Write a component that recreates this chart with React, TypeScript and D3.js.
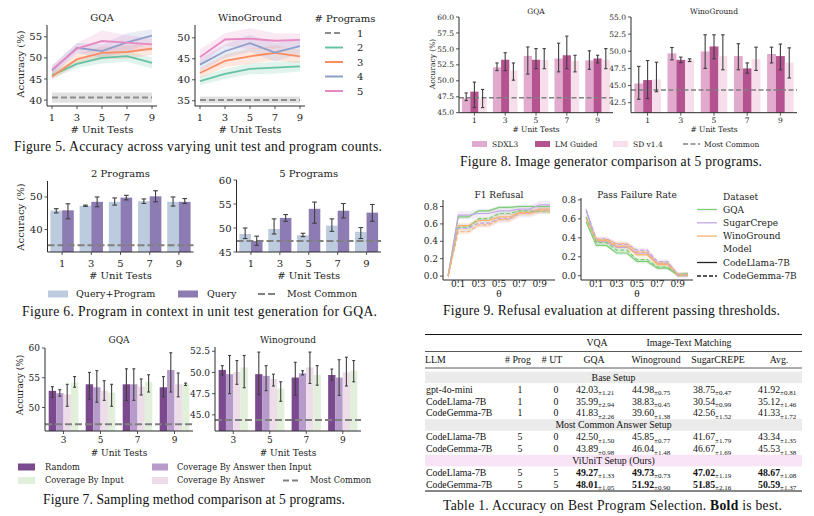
import React from "react"
import * as d3 from "d3"

const SERIF = "DejaVu Serif"
const TIMES = "Liberation Serif"
const AX = "#2b2b2b"
const ERR = "#3f3f3f"
const COMMON = "#808080"

type Triple = [number, number, number] // mean, low, high

// ---------- Figure 5: lines per number of programs
const unitTests = [1, 3, 5, 7, 9]
const programLabels = ["1", "2", "3", "4", "5"]
const programColors = ["#8c8c8c", "#66c2a5", "#fc8d62", "#8da0cb", "#e78ac3"]
const gqaByPrograms = [
  [40.6, 40.6, 40.6, 40.6, 40.6],
  [45.9, 48.6, 50.0, 50.4, 48.8],
  [45.6, 49.7, 51.2, 51.4, 52.2],
  [47.0, 52.4, 51.6, 53.7, 55.3],
  [47.2, 52.2, 54.0, 53.6, 53.2],
]
const gqaBandHalf = [
  [1.2, 1.2, 1.2, 1.2, 1.2],
  [0.8, 1.0, 1.3, 1.3, 1.3],
  [0.8, 1.3, 1.5, 1.6, 1.5],
  [1.2, 1.2, 1.6, 2.2, 1.5],
  [1.0, 1.3, 2.5, 1.8, 1.5],
]
const winoByPrograms = [
  [35.2, 35.2, 35.2, 35.2, 35.2],
  [39.7, 41.4, 42.6, 42.9, 43.2],
  [41.6, 44.5, 45.6, 46.4, 45.6],
  [43.6, 46.8, 48.7, 46.5, 48.0],
  [45.4, 49.6, 49.8, 49.3, 49.5],
]
const winoBandHalf = [
  [0.8, 0.8, 0.8, 0.8, 0.8],
  [1.0, 1.2, 1.3, 1.4, 1.2],
  [1.2, 1.5, 1.8, 1.8, 1.6],
  [1.5, 1.6, 2.0, 2.2, 1.8],
  [1.8, 1.5, 2.5, 1.8, 1.5],
]

// ---------- Figure 6: program in context
const testCats = ["1", "3", "5", "7", "9"]
const twoProgQueryProgram: Triple[] = [[45.8, 45.1, 46.4], [47.3, 47.1, 47.5], [48.5, 47.5, 49.7], [48.7, 48.0, 49.4], [48.5, 47.2, 50.0]]
const twoProgQuery: Triple[] = [[45.9, 43.3, 47.9], [48.5, 47.0, 50.0], [49.8, 49.1, 50.5], [50.2, 48.5, 51.9], [48.5, 48.0, 49.5]]
const fiveProgQueryProgram: Triple[] = [[48.75, 47.8, 50.0], [49.8, 48.75, 51.9], [48.5, 48.2, 48.9], [50.5, 49.3, 51.9], [49.2, 47.8, 50.1]]
const fiveProgQuery: Triple[] = [[47.3, 46.4, 48.3], [52.1, 51.4, 52.8], [54.0, 51.0, 55.4], [53.6, 52.1, 55.1], [53.2, 51.4, 54.9]]
const fig6Common = [35.2, 47.3]

// ---------- Figure 7: sampling methods
const fig7Cats = ["3", "5", "7", "9"]
const gqaRandom: Triple[] = [[52.8, 51.7, 53.5], [53.9, 51.4, 55.9], [53.9, 51.2, 56.5], [53.4, 51.8, 55.2]]
const gqaAnsThenInput: Triple[] = [[52.4, 51.9, 53.0], [53.4, 50.9, 56.2], [53.9, 51.2, 56.5], [56.3, 52.6, 59.2]]
const gqaByAnswer: Triple[] = [[52.2, 50.2, 53.9], [52.8, 51.2, 54.5], [53.5, 52.1, 54.8], [53.9, 51.8, 55.8]]
const gqaByInput: Triple[] = [[54.2, 53.4, 55.2], [52.5, 50.2, 53.9], [54.3, 52.6, 55.5], [53.9, 53.7, 54.1]]
const winoRandom: Triple[] = [[50.3, 49.7, 50.8], [49.8, 47.4, 52.4], [49.4, 47.3, 51.2], [49.7, 49.1, 50.4]]
const winoAnsThenInput: Triple[] = [[49.8, 47.5, 52.0], [49.6, 47.85, 50.8], [49.9, 49.7, 50.2], [49.4, 47.3, 51.5]]
const winoByAnswer: Triple[] = [[50.05, 48.6, 51.4], [49.25, 48.4, 49.8], [50.6, 48.7, 52.4], [50.0, 48.4, 51.8]]
const winoByInput: Triple[] = [[50.6, 48.2, 52.0], [48.1, 46.6, 48.9], [49.7, 48.5, 50.8], [50.2, 48.9, 51.4]]
const fig7Common = [47.2, 44.4]
const fig7Colors = ["#7b4a8e", "#b79ccb", "#ecdde9", "#e2efdb"]

// ---------- Figure 8: image generators
const gqaSdxl: Triple[] = [[47.25, 46.9, 48.1], [52.1, 51.6, 52.8], [53.9, 51.05, 55.3], [53.5, 51.4, 55.9], [53.2, 51.8, 54.7]]
const gqaLmGuided: Triple[] = [[48.3, 45.8, 49.8], [53.3, 51.6, 54.4], [53.3, 51.9, 55.05], [54.0, 51.9, 57.0], [53.5, 52.8, 54.0]]
const gqaSd14: Triple[] = [[47.2, 45.8, 48.65], [51.6, 50.1, 52.8], [53.3, 51.9, 55.05], [53.1, 51.4, 54.0], [53.3, 51.9, 55.05]]
const winoSdxl: Triple[] = [[45.3, 43.0, 47.8], [49.7, 48.75, 50.55], [49.97, 47.5, 52.4], [49.3, 47.3, 51.1], [49.6, 48.3, 50.6]]
const winoLmGuided: Triple[] = [[45.8, 43.1, 48.65], [48.75, 48.35, 49.15], [50.7, 48.9, 52.4], [47.5, 46.8, 48.3], [49.3, 47.3, 51.05]]
const winoSd14: Triple[] = [[45.9, 44.1, 48.4], [48.75, 48.5, 48.9], [49.3, 47.3, 52.4], [48.85, 47.2, 50.6], [48.35, 46.1, 50.5]]
const fig8Common = [47.35, 44.35]
const fig8Colors = ["#e2aacd", "#b55290", "#f6dfea"]

// ---------- Figure 9: refusal thresholds
const thetas = [0, 0.1, 0.2, 0.3, 0.4, 0.5, 0.6, 0.7, 0.8, 0.9, 1.0]
const datasetNames = ["GQA", "SugarCrepe", "WinoGround"]
const datasetColors = ["#7fcb78", "#c1a7e3", "#f6b370"]
const f1Llama = [
  [0, 0.68, 0.68, 0.75, 0.75, 0.79, 0.79, 0.8, 0.8, 0.8, 0.8],
  [0, 0.7, 0.7, 0.72, 0.72, 0.75, 0.75, 0.77, 0.77, 0.82, 0.82],
  [0, 0.58, 0.58, 0.64, 0.64, 0.68, 0.68, 0.73, 0.73, 0.77, 0.77],
]
const f1Gemma = [
  [0, 0.56, 0.56, 0.66, 0.66, 0.72, 0.72, 0.75, 0.75, 0.74, 0.74],
  [0, 0.55, 0.55, 0.61, 0.61, 0.66, 0.66, 0.72, 0.72, 0.76, 0.76],
  [0, 0.51, 0.51, 0.59, 0.59, 0.65, 0.65, 0.72, 0.72, 0.75, 0.75],
]
const passLlama = [
  [0.57, 0.32, 0.32, 0.24, 0.24, 0.15, 0.15, 0.08, 0.08, 0.01, 0.02],
  [0.69, 0.36, 0.36, 0.3, 0.3, 0.24, 0.24, 0.13, 0.13, 0.01, 0.01],
  [0.62, 0.37, 0.37, 0.31, 0.31, 0.22, 0.22, 0.12, 0.12, 0.01, 0.01],
]
const passGemma = [
  [0.62, 0.35, 0.35, 0.27, 0.27, 0.17, 0.17, 0.09, 0.09, 0.01, 0.01],
  [0.7, 0.39, 0.39, 0.33, 0.33, 0.27, 0.27, 0.15, 0.15, 0.01, 0.01],
  [0.6, 0.38, 0.38, 0.34, 0.34, 0.25, 0.25, 0.13, 0.13, 0.01, 0.01],
]
const f1BandHalf = [0.02, 0.045, 0.03]
const passBandHalf = [0.02, 0.025, 0.025]

// ---------- Table 1
type Row = [string, number, number, [number, number][]]
const tableColumns = ["GQA", "Winoground", "SugarCREPE", "Avg."]
const baseSetupRows: Row[] = [
  ["gpt-4o-mini", 1, 0, [[42.03, 1.21], [44.98, 0.75], [38.75, 0.47], [41.92, 0.81]]],
  ["CodeLlama-7B", 1, 0, [[35.99, 2.94], [38.83, 0.45], [30.54, 0.99], [35.12, 1.46]]],
  ["CodeGemma-7B", 1, 0, [[41.83, 2.26], [39.6, 1.38], [42.56, 1.52], [41.33, 1.72]]],
]
const mostCommonRows: Row[] = [
  ["CodeLlama-7B", 5, 0, [[42.5, 1.5], [45.85, 0.77], [41.67, 1.79], [43.34, 1.35]]],
  ["CodeGemma-7B", 5, 0, [[43.89, 0.98], [46.04, 1.48], [46.67, 1.69], [45.53, 1.38]]],
]
const viunitRows: Row[] = [
  ["CodeLlama-7B", 5, 5, [[49.27, 1.33], [49.73, 0.73], [47.02, 1.19], [48.67, 1.08]]],
  ["CodeGemma-7B", 5, 5, [[48.01, 1.05], [51.92, 0.9], [51.85, 2.16], [50.59, 1.37]]],
]

// ---------- helpers
function YAxis({ x, y, ticks, fmt, fs, top, bottom }) {
  return (
    <g>
      <line x1={x} x2={x} y1={top} y2={bottom} stroke={AX} strokeWidth={1} />
      {ticks.map(t => (
        <g key={t}>
          <line x1={x - 3} x2={x} y1={y(t)} y2={y(t)} stroke={AX} strokeWidth={0.8} />
          <text x={x - 5} y={y(t)} dy="0.35em" textAnchor="end" fontSize={fs} fill="#222">
            {fmt(t)}
          </text>
        </g>
      ))}
    </g>
  )
}

function XAxis({ y, left, right, ticks, fs, labelY }) {
  return (
    <g>
      <line x1={left} x2={right} y1={y} y2={y} stroke={AX} strokeWidth={1} />
      {ticks.map(t => (
        <g key={t.label}>
          <line x1={t.x} x2={t.x} y1={y} y2={y + 3} stroke={AX} strokeWidth={0.8} />
          <text x={t.x} y={labelY} dy="0.35em" textAnchor="middle" fontSize={fs} fill="#222">
            {t.label}
          </text>
        </g>
      ))}
    </g>
  )
}

function YLabel({ x, y, fs }) {
  return (
    <text transform={`translate(${x},${y}) rotate(-90)`} textAnchor="middle" dy="0.35em" fontSize={fs} fill="#222">
      Accuracy (%)
    </text>
  )
}

function BarPanel(p) {
  const y = d3.scaleLinear().domain(p.yDomain).range([p.bottom, p.top])
  const x = d3.scaleBand().domain(p.cats).range([p.left, p.right])
  const bw = x.bandwidth()
  const w = (bw * 0.8) / p.series.length
  const cap = w * 0.2
  return (
    <g>
      {p.series.map((s, j) =>
        s.data.map((d, i) => {
          const bx = x(p.cats[i]) + bw * 0.1 + j * w
          return <rect key={`b${j}-${i}`} x={bx} y={y(d[0])} width={w} height={p.bottom - y(d[0])} fill={s.color} />
        })
      )}
      <line x1={p.left} x2={p.right} y1={y(p.common)} y2={y(p.common)} stroke={COMMON} strokeWidth={p.dashW} strokeDasharray={p.dash} />
      {p.series.map((s, j) =>
        s.data.map((d, i) => {
          const cx = x(p.cats[i]) + bw * 0.1 + j * w + w / 2
          return (
            <g key={`e${j}-${i}`} stroke={ERR} strokeWidth={1.1}>
              <line x1={cx} x2={cx} y1={y(d[1])} y2={y(d[2])} />
              <line x1={cx - cap} x2={cx + cap} y1={y(d[1])} y2={y(d[1])} />
              <line x1={cx - cap} x2={cx + cap} y1={y(d[2])} y2={y(d[2])} />
            </g>
          )
        })
      )}
      <YAxis x={p.left} y={y} ticks={p.yTicks} fmt={p.yFmt} fs={p.fs} top={p.top} bottom={p.bottom} />
      <XAxis
        y={p.bottom}
        left={p.left}
        right={p.right}
        ticks={p.cats.map(c => ({ x: x(c) + bw / 2, label: c }))}
        fs={p.fs}
        labelY={p.tickY}
      />
      <text x={(p.left + p.right) / 2} y={p.titleY} dy="0.35em" textAnchor="middle" fontSize={p.fs} fill="#222">
        {p.title}
      </text>
      <text x={(p.left + p.right) / 2} y={p.xLabelY} dy="0.35em" textAnchor="middle" fontSize={p.fs} fill="#222">
        # Unit Tests
      </text>
    </g>
  )
}

function LinePanel(p) {
  const x = d3.scaleLinear().domain(p.xDomain).range([p.left, p.right])
  const y = d3.scaleLinear().domain(p.yDomain).range([p.bottom, p.top])
  const line = d3
    .line<number>()
    .x((d, i) => x(p.xs[i]))
    .y(d => y(d))
  return (
    <g>
      {p.lines.map((l, k) => {
        const area = d3
          .area<number>()
          .x((d, i) => x(p.xs[i]))
          .y0((d, i) => y(d - l.half[i]))
          .y1((d, i) => y(d + l.half[i]))
        return <path key={`a${k}`} d={area(l.values)} fill={l.color} fillOpacity={l.bandOpacity ?? 0.2} />
      })}
      {p.lines.map((l, k) => (
        <path key={`l${k}`} d={line(l.values)} fill="none" stroke={l.color} strokeWidth={l.width} strokeDasharray={l.dash} />
      ))}
      <YAxis x={p.left} y={y} ticks={p.yTicks} fmt={p.yFmt} fs={p.fs} top={p.top} bottom={p.bottom} />
      <XAxis
        y={p.bottom}
        left={p.left}
        right={p.right}
        ticks={p.xTicks.map(t => ({ x: x(t), label: p.xFmt(t) }))}
        fs={p.fs}
        labelY={p.tickY}
      />
      <text x={(p.left + p.right) / 2} y={p.titleY} dy="0.35em" textAnchor="middle" fontSize={p.fs} fill="#222">
        {p.title}
      </text>
      <text x={(p.left + p.right) / 2} y={p.xLabelY} dy="0.35em" textAnchor="middle" fontSize={p.fs} fill="#222">
        {p.xLabel}
      </text>
    </g>
  )
}

function Caption({ x1, x2, y, children }) {
  return (
    <text x={(x1 + x2) / 2} y={y} textAnchor="middle" fontFamily={TIMES} fontSize={13.6} fill="#111" textLength={x2 - x1} lengthAdjust="spacing">
      {children}
    </text>
  )
}

function LegendPatch({ x, y, w, h, color, label, fs, tx }) {
  return (
    <g>
      <rect x={x} y={y - h / 2} width={w} height={h} fill={color} />
      <text x={tx} y={y} dy="0.35em" fontSize={fs} fill="#222">
        {label}
      </text>
    </g>
  )
}

function LegendLine({ x1, x2, y, color, dash, width, label, fs, tx }) {
  return (
    <g>
      <line x1={x1} x2={x2} y1={y} y2={y} stroke={color} strokeWidth={width} strokeDasharray={dash} />
      <text x={tx} y={y} dy="0.35em" fontSize={fs} fill="#222">
        {label}
      </text>
    </g>
  )
}

// ---------- figures
function Figure5() {
  const mk = (vals, halves) =>
    vals.map((v, k) => ({
      values: v,
      half: halves[k],
      color: programColors[k],
      width: k === 0 ? 2 : 1.8,
      dash: k === 0 ? "6,3" : undefined,
      bandOpacity: k === 0 ? 0.25 : 0.2,
    }))
  const common = {
    xDomain: [0.6, 9.4],
    xs: unitTests,
    xTicks: unitTests,
    xFmt: d => String(d),
    yFmt: d => String(d),
    fs: 10,
    top: 25,
    bottom: 106,
    tickY: 117,
    xLabelY: 129,
    titleY: 17,
    xLabel: "# Unit Tests",
  }
  return (
    <g>
      <LinePanel {...common} left={47} right={157} yDomain={[38.6, 57.8]} yTicks={[40, 45, 50, 55]} lines={mk(gqaByPrograms, gqaBandHalf)} title="GQA" />
      <LinePanel {...common} left={195} right={305} yDomain={[33.75, 53.05]} yTicks={[35, 40, 45, 50]} lines={mk(winoByPrograms, winoBandHalf)} title="WinoGround" />
      <YLabel x={20} y={64} fs={10} />
      <text x={345} y={18} dy="0.35em" textAnchor="middle" fontSize={10} fill="#222">
        # Programs
      </text>
      {programLabels.map((lab, k) => (
        <LegendLine
          key={lab}
          x1={325}
          x2={343}
          y={33 + k * 14.5}
          color={programColors[k]}
          dash={k === 0 ? "6,3" : undefined}
          width={2}
          label={lab}
          fs={10}
          tx={357}
        />
      ))}
      <Caption x1={14} x2={382} y={151}>
        Figure 5. Accuracy across varying unit test and program counts.
      </Caption>
    </g>
  )
}

function Figure8() {
  const common = {
    cats: testCats,
    top: 17,
    bottom: 112.7,
    fs: 7.5,
    tickY: 120,
    xLabelY: 129.5,
    titleY: 11.5,
    yFmt: d => d.toFixed(1),
    dash: "5,2.5",
    dashW: 1.6,
  }
  return (
    <g>
      <BarPanel
        {...common}
        left={459}
        right={613}
        yDomain={[45, 60]}
        yTicks={[45, 47.5, 50, 52.5, 55, 57.5, 60]}
        series={[gqaSdxl, gqaLmGuided, gqaSd14].map((d, k) => ({ data: d, color: fig8Colors[k] }))}
        common={fig8Common[0]}
        title="GQA"
      />
      <BarPanel
        {...common}
        left={631}
        right={797}
        yDomain={[41.04, 55]}
        yTicks={[42.5, 45, 47.5, 50, 52.5, 55]}
        series={[winoSdxl, winoLmGuided, winoSd14].map((d, k) => ({ data: d, color: fig8Colors[k] }))}
        common={fig8Common[1]}
        title="WinoGround"
      />
      <YLabel x={432} y={64} fs={7.5} />
      <LegendPatch x={472} y={144} w={15} h={6} color={fig8Colors[0]} label="SDXL3" fs={7.5} tx={492} />
      <LegendPatch x={535} y={144} w={15} h={6} color={fig8Colors[1]} label="LM Guided" fs={7.5} tx={555} />
      <LegendPatch x={613} y={144} w={15} h={6} color={fig8Colors[2]} label="SD v1.4" fs={7.5} tx={633} />
      <LegendLine x1={683} x2={700} y={144} color={COMMON} dash="5,2.5" width={1.6} label="Most Common" fs={7.5} tx={704} />
      <Caption x1={460} x2={762} y={166}>
        Figure 8. Image generator comparison at 5 programs.
      </Caption>
    </g>
  )
}

function Figure6() {
  const colors = ["#bccbdd", "#8d7cb3"]
  const common = {
    cats: testCats,
    bottom: 252,
    fs: 10,
    tickY: 263.5,
    xLabelY: 275,
    titleY: 173.5,
    yFmt: d => String(d),
    dash: "7,3",
    dashW: 2,
  }
  return (
    <g>
      <BarPanel
        {...common}
        left={47.5}
        right={193.5}
        top={181}
        yDomain={[33.1, 54.9]}
        yTicks={[40, 50]}
        series={[twoProgQueryProgram, twoProgQuery].map((d, k) => ({ data: d, color: colors[k] }))}
        common={fig6Common[0]}
        title="2 Programs"
      />
      <BarPanel
        {...common}
        left={236.5}
        right={381}
        top={180}
        yDomain={[45, 60]}
        yTicks={[45, 50, 55, 60]}
        series={[fiveProgQueryProgram, fiveProgQuery].map((d, k) => ({ data: d, color: colors[k] }))}
        common={fig6Common[1]}
        title="5 Programs"
      />
      <YLabel x={20} y={217} fs={10} />
      <LegendPatch x={48} y={294} w={20} h={7} color={colors[0]} label="Query+Program" fs={9.5} tx={76} />
      <LegendPatch x={178} y={294} w={20} h={7} color={colors[1]} label="Query" fs={9.5} tx={207} />
      <LegendLine x1={258} x2={278} y={294} color={COMMON} dash="7,3" width={2} label="Most Common" fs={9.5} tx={287} />
      <Caption x1={22} x2={377} y={316}>
        Figure 6. Program in context in unit test generation for GQA.
      </Caption>
    </g>
  )
}

function Figure9() {
  const mk = (llama, gemma, half) => {
    const out = []
    llama.forEach((v, k) =>
      out.push({ values: v, half: v.map(() => half[k]), color: datasetColors[k], width: 1.2 })
    )
    gemma.forEach((v, k) =>
      out.push({ values: v, half: v.map(() => half[k]), color: datasetColors[k], width: 1.2, dash: "4,2" })
    )
    return out
  }
  const common = {
    xDomain: [-0.05, 1.05],
    xs: thetas,
    xTicks: [0.1, 0.3, 0.5, 0.7, 0.9],
    xFmt: d => d.toFixed(1),
    yFmt: d => d.toFixed(1),
    yTicks: [0, 0.2, 0.4, 0.6, 0.8],
    fs: 9,
    bottom: 280,
    tickY: 284,
    xLabelY: 294,
    titleY: 195,
    xLabel: "θ",
  }
  return (
    <g>
      <LinePanel {...common} left={443} right={555} top={200} yDomain={[-0.045, 0.875]} lines={mk(f1Llama, f1Gemma, f1BandHalf)} title="F1 Refusal" />
      <LinePanel {...common} left={581} right={693} top={198} yDomain={[-0.045, 0.82]} lines={mk(passLlama, passGemma, passBandHalf)} title="Pass Failure Rate" />
      <text x={723} y={197} dy="0.35em" fontSize={9} fill="#222">
        Dataset
      </text>
      {datasetNames.map((n, k) => (
        <LegendLine key={n} x1={697} x2={717} y={209.5 + k * 13.3} color={datasetColors[k]} width={1.3} label={n} fs={9} tx={723} />
      ))}
      <text x={723} y={249} dy="0.35em" fontSize={9} fill="#222">
        Model
      </text>
      <LegendLine x1={697} x2={717} y={262.5} color="#222" width={1.3} label="CodeLlama-7B" fs={9} tx={723} />
      <LegendLine x1={697} x2={717} y={276} color="#222" dash="4,2" width={1.3} label="CodeGemma-7B" fs={9} tx={723} />
      <Caption x1={443} x2={780} y={315}>
        Figure 9. Refusal evaluation at different passing thresholds.
      </Caption>
    </g>
  )
}

function Figure7() {
  const common = {
    cats: fig7Cats,
    bottom: 431,
    fs: 9,
    tickY: 440,
    xLabelY: 453,
    titleY: 340,
    yFmt: d => String(d),
    dash: "7,3",
    dashW: 2,
  }
  return (
    <g>
      <BarPanel
        {...common}
        left={45}
        right={193}
        top={348}
        yDomain={[46.05, 60]}
        yTicks={[50, 55, 60]}
        series={[gqaRandom, gqaAnsThenInput, gqaByAnswer, gqaByInput].map((d, k) => ({ data: d, color: fig7Colors[k] }))}
        common={fig7Common[0]}
        title="GQA"
      />
      <BarPanel
        {...common}
        left={215}
        right={361}
        top={347}
        yDomain={[43.1, 53]}
        yTicks={[45, 47.5, 50, 52.5]}
        yFmt={d => d.toFixed(1)}
        series={[winoRandom, winoAnsThenInput, winoByAnswer, winoByInput].map((d, k) => ({ data: d, color: fig7Colors[k] }))}
        common={fig7Common[1]}
        title="Winoground"
      />
      <YLabel x={20} y={385} fs={9} />
      <LegendPatch x={18} y={467} w={17} h={7} color={fig7Colors[0]} label="Random" fs={8.3} tx={45} />
      <LegendPatch x={152} y={467} w={16} h={7} color={fig7Colors[1]} label="Coverage By Answer then Input" fs={8.3} tx={177} />
      <LegendPatch x={18} y={480.5} w={17} h={7} color={fig7Colors[3]} label="Coverage By Input" fs={8.3} tx={45} />
      <LegendPatch x={152} y={480.5} w={16} h={7} color={fig7Colors[2]} label="Coverage By Answer" fs={8.3} tx={177} />
      <LegendLine x1={283} x2={299} y={480.5} color={COMMON} dash="6,3" width={2} label="Most Common" fs={8.3} tx={310} />
      <Caption x1={43} x2={345} y={504}>
        Figure 7. Sampling method comparison at 5 programs.
      </Caption>
    </g>
  )
}

function Table1() {
  const L = 425
  const R = 802
  const valX = [576, 632, 693, 758]
  const rowStep = 11.9
  const fs = 9.8
  const sections: [string, Row[], string][] = [
    ["Base Setup", baseSetupRows, "#ebebeb"],
    ["Most Common Answer Setup", mostCommonRows, "#ebebeb"],
    ["ViUniT Setup (Ours)", viunitRows, "#f9e4f7"],
  ]
  let yc = 377.3
  const items = []
  sections.forEach(([name, rows, bg], si) => {
    items.push(
      <g key={`s${si}`}>
        <rect x={L} y={yc - 5.8} width={R - L} height={11.6} fill={bg} />
        <text x={(L + R) / 2} y={yc} dy="0.35em" textAnchor="middle" fontSize={fs}>
          {name}
        </text>
      </g>
    )
    yc += rowStep
    rows.forEach((r, ri) => {
      const bold = si === 2
      items.push(
        <g key={`r${si}-${ri}`}>
          <text x={426} y={yc} dy="0.35em" fontSize={fs}>
            {r[0]}
          </text>
          <text x={520} y={yc} dy="0.35em" textAnchor="middle" fontSize={fs}>
            {r[1]}
          </text>
          <text x={556} y={yc} dy="0.35em" textAnchor="middle" fontSize={fs}>
            {r[2]}
          </text>
          {r[3].map((v, k) => (
            <text key={k} x={valX[k]} y={yc} dy="0.35em" fontSize={fs}>
              <tspan fontWeight={bold ? "bold" : "normal"}>{v[0].toFixed(2)}</tspan>
              <tspan fontSize={7} dy={2.5}>
                ±{v[1].toFixed(2)}
              </tspan>
            </text>
          ))}
        </g>
      )
      yc += rowStep
    })
  })
  const headerCenters = [594, 656, 718, 779]
  return (
    <g fontFamily={TIMES} fill="#111">
      <line x1={L} x2={R} y1={334.5} y2={334.5} stroke="#111" strokeWidth={1.2} />
      <text x={597} y={342.5} dy="0.35em" textAnchor="middle" fontSize={fs}>
        VQA
      </text>
      <text x={689} y={342.5} dy="0.35em" textAnchor="middle" fontSize={fs}>
        Image-Text Matching
      </text>
      <line x1={L} x2={R} y1={351.5} y2={351.5} stroke="#111" strokeWidth={0.7} />
      <text x={L} y={359.5} dy="0.35em" fontSize={fs}>
        LLM
      </text>
      <text x={518} y={359.5} dy="0.35em" textAnchor="middle" fontSize={fs}>
        # Prog
      </text>
      <text x={552} y={359.5} dy="0.35em" textAnchor="middle" fontSize={fs}>
        # UT
      </text>
      {tableColumns.map((c, k) => (
        <text key={c} x={headerCenters[k]} y={359.5} dy="0.35em" textAnchor="middle" fontSize={fs}>
          {c}
        </text>
      ))}
      <line x1={L} x2={R} y1={368} y2={368} stroke="#111" strokeWidth={0.7} />
      {items}
      <line x1={L} x2={R} y1={491} y2={491} stroke="#111" strokeWidth={1.2} />
      <text x={612.5} y={510} textAnchor="middle" fontSize={13.6} textLength={339} lengthAdjust="spacing">
        Table 1. Accuracy on Best Program Selection. <tspan fontWeight="bold">Bold</tspan> is best.
      </text>
    </g>
  )
}

export default function App() {
  return (
    <div style={{ position: "absolute", left: 0, top: 0 }}>
      <svg width={814} height={516} style={{ display: "block", background: "#fff" }} fontFamily={SERIF}>
        <rect width={814} height={516} fill="#fff" />
        <Figure5 />
        <Figure8 />
        <Figure6 />
        <Figure9 />
        <Figure7 />
        <Table1 />
      </svg>
    </div>
  )
}
